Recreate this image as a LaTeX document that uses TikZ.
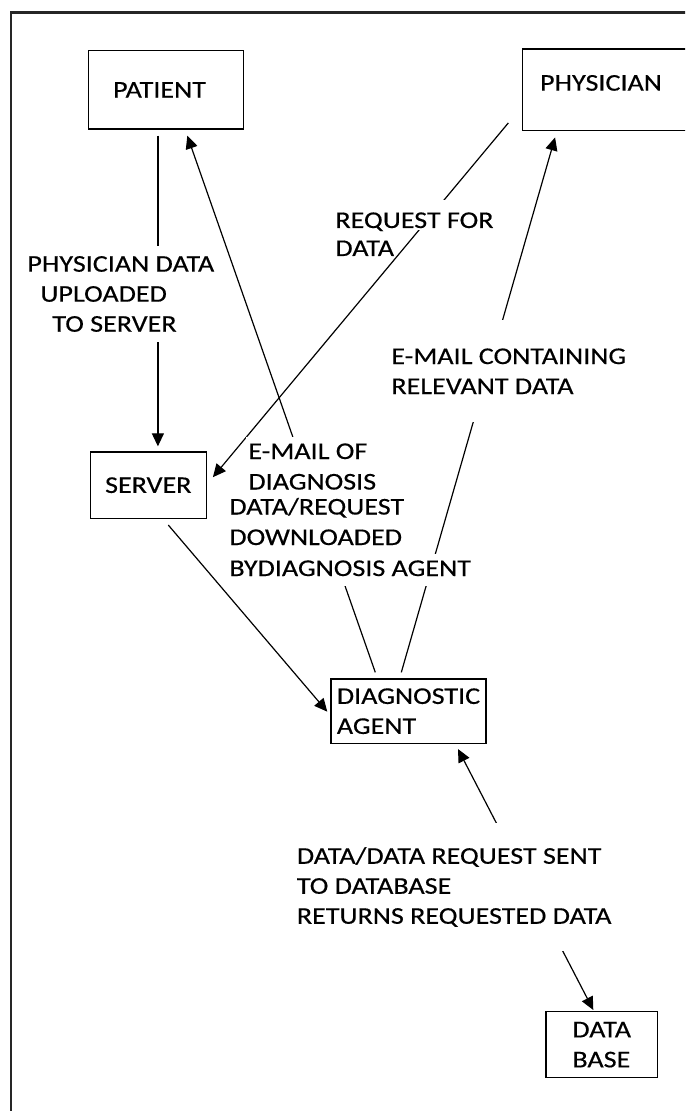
\documentclass[tikz,border=0pt]{standalone}
\usepackage{fontspec}
\setmainfont{Carlito}[FakeStretch=1.17,FakeBold=0.4]
\usetikzlibrary{arrows.meta,calc}
\begin{document}
\begin{tikzpicture}[x=0.5pt,y=-0.5pt,
  font=\fontsize{12}{15}\selectfont,
  box/.style={draw=black, line width=0.7pt, inner sep=0pt},
  conn/.style={draw=black, line width=0.6pt},
  arr/.style={conn, -{Triangle[length=6.5pt,width=6pt]}},
  darr/.style={conn, {Triangle[length=6.5pt,width=6pt]}-{Triangle[length=6.5pt,width=6pt]}},
  lblblock/.style={fill=white, align=left, inner xsep=1pt, anchor=west},
  lblline/.style={fill=white, inner xsep=1pt, inner ysep=2pt, text height=9pt, text depth=3pt, anchor=base west},
  frame/.style={draw=black!85, line width=1.2pt}]
\useasboundingbox (0,0) rectangle (685,1111);
\clip (0,0) rectangle (685,1111);
\draw[frame] (11,12.7) rectangle (720,1140);

% boxes
\node[box, minimum width=77.4pt, minimum height=39.15pt] (patient) at (165.9,89.85) {PATIENT\hspace*{6.4pt}};
\node[box, minimum width=83.65pt, minimum height=40.85pt, text height=7.75pt, text depth=7pt] (physician) at (606.4,89.9) {PHYSICIAN\hspace*{5.4pt}};
\node[box, minimum width=57.9pt, minimum height=33.15pt] (server) at (148.3,485.2) {SERVER};
\node[box, align=left, minimum width=77.5pt, minimum height=32.15pt] (agent) at (408.5,711.2) {DIAGNOSTIC\\AGENT};
\node[box, align=left, minimum width=55.65pt, minimum height=33pt] (db) at (601.7,1044.7) {DATA\\BASE};

% connectors
\draw[arr] ($(patient.south)+(-8,6)$) -- ($(server.north)+(9.6,-5)$);
\draw[arr] ($(agent.north west)+(45,-6)$) -- ($(patient.south west)+(99.5,6)$);
\draw[arr] ($(physician.west)+(-13.7,33)$) -- ($(server.east)+(6,-8)$);
\draw[arr] ($(server.south)+(20,6)$) -- ($(agent.west)+(-3,0.5)$);
\draw[arr] ($(agent.north west)+(71,-6)$) -- ($(physician.south west)+(33,6)$);
\draw[darr] ($(agent.south west)+(127.7,5)$) -- ($(db.north)+(-8.4,-1)$);

% labels
\node[lblblock, inner ysep=5pt] (lphys) at (25,294) {PHYSICIAN DATA\\\hspace*{6.5pt}UPLOADED\\\hspace*{12.5pt}TO SERVER};
\node[lblline, text height=13pt, text depth=0pt, inner ysep=1pt] (lreq1) at (333,228) {REQUEST FOR};
\node[anchor=base west, inner xsep=1pt] (lreq2) at (333,256) {DATA};
\node[lblblock, inner ysep=14pt] (lrel) at (389,371.25) {E-MAIL CONTAINING\\RELEVANT DATA};
\node[lblline] (lmail1) at (246,459) {E-MAIL OF};
\node[lblline] (lmail2) at (246,489.5) {DIAGNOSIS};
\node[lblline] (ldr1) at (227,514.5) {DATA/REQUEST};
\node[lblline] (ldr2) at (227,545) {DOWNLOADED};
\node[lblline] (ldr3) at (227,576) {BYDIAGNOSIS AGENT};
\node[lblblock, inner ysep=12pt] (ldb) at (294.5,887) {DATA/DATA REQUEST SENT\\TO DATABASE\\RETURNS REQUESTED DATA};
\end{tikzpicture}
\end{document}
